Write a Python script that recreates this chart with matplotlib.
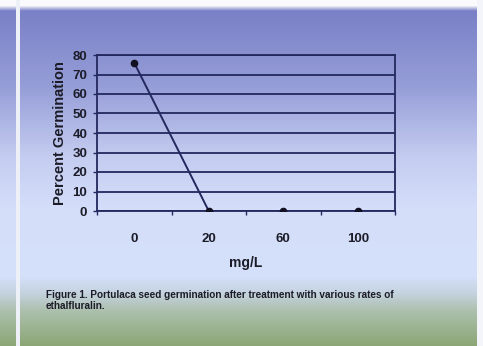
import numpy as np
import matplotlib
matplotlib.use("Agg")
import matplotlib.pyplot as plt
from matplotlib.patches import Rectangle

# germination vs. concentration
doses = ["0", "20", "60", "100"]
germination = [76, 0, 0, 0]
y_ticks = [0, 10, 20, 30, 40, 50, 60, 70, 80]
caption = ("Figure 1. Portulaca seed germination after treatment with various rates of\n"
           "ethalfluralin.")

plt.rcParams["font.family"] = ["Liberation Sans", "DejaVu Sans"]
navy = "#23285e"
ink = "#1c1c28"

fig = plt.figure(figsize=(4.83, 3.46), dpi=100)

# slide background: blue at the top fading to pale, green band at the bottom
stops = [0.0, 0.015, 0.03, 0.25, 0.45, 0.6, 0.8, 0.85, 0.9, 1.0]
cols = np.array([
    [250, 250, 252], [250, 250, 252], [122, 128, 198], [150, 158, 216],
    [196, 204, 240], [212, 222, 250], [212, 224, 249], [196, 210, 222],
    [172, 192, 172], [140, 166, 118]]) / 255.0
t = np.linspace(0, 1, 346)
grad = np.stack([np.interp(t, stops, cols[:, k]) for k in range(3)], axis=1)
img = np.repeat(grad[:, None, :], 483, axis=1)
bg = fig.add_axes([0, 0, 1, 1], zorder=-1)
bg.imshow(img, aspect="auto", interpolation="bilinear", extent=[0, 483, 346, 0])
bg.add_patch(Rectangle((16, 0), 4, 346, color="#eef0f8", lw=0))
bg.add_patch(Rectangle((477, 0), 6, 346, color="#f4f5fa", lw=0))
bg.set_xlim(0, 483)
bg.set_ylim(346, 0)
bg.axis("off")

ax = fig.add_axes([97 / 483, 1 - 211 / 346, 298 / 483, 156 / 346])
ax.patch.set_alpha(0)
x = np.arange(len(doses))
ax.plot(x, germination, color=navy, lw=1.4, marker="o", ms=4.5,
        mfc="#111122", mec="#111122", zorder=3)

ax.set_ylim(0, 80)
ax.set_yticks(y_ticks)
ax.grid(axis="y", color=navy, lw=1.3)
ax.set_axisbelow(True)
ax.set_xlim(-0.5, len(doses) - 0.5)
ax.set_xticks(np.arange(len(doses) + 1) - 0.5)
ax.set_xticklabels([])
ax.set_xticks(x, minor=True)
ax.set_xticklabels(doses, minor=True)
ax.tick_params(axis="x", which="major", length=3, color=navy, width=1)
ax.tick_params(axis="x", which="minor", length=0, pad=16,
               labelsize=9.5, labelcolor=ink)
ax.tick_params(axis="y", length=3, color=navy, width=1, pad=4,
               labelsize=9.5, labelcolor=ink)
for lab in ax.get_xticklabels(minor=True) + ax.get_yticklabels():
    lab.set_fontweight("bold")
for s in ax.spines.values():
    s.set_color(navy)
    s.set_linewidth(1.3)

ax.set_xlabel("mg/L", fontsize=10, fontweight="bold", color=ink, labelpad=8)
ax.set_ylabel("Percent Germination", fontsize=10.5, fontweight="bold",
              color=ink, labelpad=4)

fig.text(46 / 483, 1 - 290 / 346, caption, fontsize=7.2, fontweight="bold",
         color=ink, va="top", ha="left", linespacing=1.1)

fig.savefig("out.png", dpi=100)
